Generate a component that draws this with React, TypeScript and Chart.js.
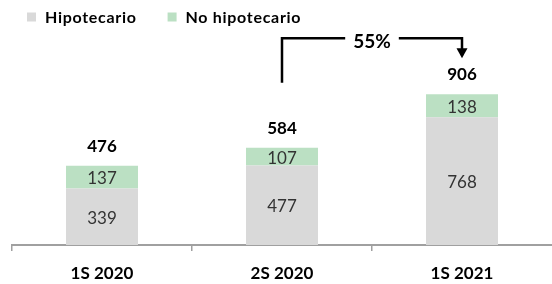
import React, { useEffect, useRef } from "react";
import { Chart, registerables } from "chart.js";

Chart.register(...registerables);

const categories = ["1S 2020", "2S 2020", "1S 2021"];
const seriesNames = ["Hipotecario", "No hipotecario"];
const hipotecario = [339, 477, 768];
const noHipotecario = [137, 107, 138];
const growthLabel = "55%";
const seriesColors = ["#d9d9d9", "#bbe0c3"];

const FONT = "Lato, 'Open Sans', sans-serif";
const totals = categories.map((_, i) => hipotecario[i] + noHipotecario[i]);

const legendPlugin = {
  id: "customLegend",
  afterDraw(chart: any) {
    const ctx = chart.ctx;
    ctx.save();
    ctx.font = `bold 16px ${FONT}`;
    try {
      (ctx as any).letterSpacing = "0.7px";
    } catch (e) {}
    ctx.textAlign = "left";
    ctx.textBaseline = "middle";
    let lx = chart.chartArea.left + 15;
    const cy = 17;
    chart.data.datasets.forEach((ds: any) => {
      ctx.fillStyle = ds.backgroundColor;
      ctx.fillRect(lx, cy - 4.5, 9, 9);
      ctx.fillStyle = "#000";
      ctx.fillText(ds.label, lx + 18, cy + 1);
      lx += 18 + ctx.measureText(ds.label).width + 31;
    });
    ctx.restore();
  },
};

const labelsPlugin = {
  id: "valueLabels",
  afterDatasetsDraw(chart: any) {
    const ctx = chart.ctx;
    ctx.save();
    ctx.textAlign = "center";
    ctx.textBaseline = "middle";
    chart.data.datasets.forEach((ds: any, di: number) => {
      const meta = chart.getDatasetMeta(di);
      meta.data.forEach((el: any, i: number) => {
        ctx.fillStyle = "#333333";
        ctx.font = `17px ${FONT}`;
        ctx.fillText(String(ds.data[i]), el.x, (el.y + el.base) / 2 + 1.5);
      });
    });
    const y = chart.scales.y;
    const x = chart.scales.x;
    totals.forEach((t, i) => {
      ctx.font = `bold 17px ${FONT}`;
      ctx.fillStyle = "#000";
      ctx.fillText(String(t), x.getPixelForValue(i), y.getPixelForValue(t) - 19.5);
    });
    ctx.restore();
  },
};

const growthPlugin = {
  id: "growthArrow",
  afterDraw(chart: any) {
    const ctx = chart.ctx;
    const x = chart.scales.x;
    const y = chart.scales.y;
    const x1 = x.getPixelForValue(1);
    const x2 = x.getPixelForValue(2);
    const yStart = y.getPixelForValue(totals[1]) - 65;
    const yTop = y.getPixelForValue(totals[2]) - 56;
    const yTip = y.getPixelForValue(totals[2]) - 36;
    ctx.save();
    ctx.font = `bold 19px ${FONT}`;
    const tw = ctx.measureText(growthLabel).width;
    const mid = (x1 + x2) / 2;
    const gap = 8;
    ctx.strokeStyle = "#000";
    ctx.fillStyle = "#000";
    ctx.lineWidth = 2.5;
    ctx.lineJoin = "miter";
    ctx.lineCap = "butt";
    ctx.beginPath();
    ctx.moveTo(x1, yStart);
    ctx.lineTo(x1, yTop);
    ctx.lineTo(mid - tw / 2 - gap, yTop);
    ctx.moveTo(mid + tw / 2 + gap, yTop);
    ctx.lineTo(x2, yTop);
    ctx.lineTo(x2, yTip - 9);
    ctx.stroke();
    ctx.beginPath();
    ctx.moveTo(x2 - 5.5, yTip - 10);
    ctx.lineTo(x2 + 5.5, yTip - 10);
    ctx.lineTo(x2, yTip);
    ctx.closePath();
    ctx.fill();
    ctx.textAlign = "center";
    ctx.textBaseline = "middle";
    ctx.fillText(growthLabel, mid, yTop + 4);
    ctx.restore();
  },
};

export default function App() {
  const canvasRef = useRef<HTMLCanvasElement | null>(null);

  useEffect(() => {
    document.body.style.margin = "0";
    const canvas = canvasRef.current;
    if (!canvas) return;
    const chart = new Chart(canvas, {
      type: "bar",
      data: {
        labels: categories,
        datasets: [
          {
            label: seriesNames[0],
            data: hipotecario,
            backgroundColor: seriesColors[0],
            borderWidth: 0,
            barPercentage: 0.4,
            categoryPercentage: 1,
          },
          {
            label: seriesNames[1],
            data: noHipotecario,
            backgroundColor: seriesColors[1],
            borderWidth: 0,
            barPercentage: 0.4,
            categoryPercentage: 1,
          },
        ],
      },
      options: {
        animation: false,
        responsive: false,
        maintainAspectRatio: false,
        layout: { padding: { left: 12, right: 0, top: 12, bottom: 2 } },
        plugins: {
          legend: { display: false },
          tooltip: { enabled: false },
        },
        scales: {
          x: {
            stacked: true,
            afterFit: (scale: any) => {
              scale.height = 37;
            },
            grid: {
              display: true,
              drawOnChartArea: false,
              drawTicks: true,
              tickLength: 6,
              offset: true,
              color: (c: any) => (c.type === "tick" ? "#a0a0a0" : "rgba(0,0,0,0)"),
              lineWidth: 1.5,
            },
            border: { display: true, color: "#a0a0a0", width: 2 },
            ticks: {
              color: "#000",
              padding: 12,
              font: { family: FONT, size: 17, weight: "bold" },
            },
          },
          y: {
            stacked: true,
            display: false,
            min: 0,
            max: 1400,
          },
        },
      },
      plugins: [labelsPlugin, growthPlugin, legendPlugin],
    });
    return () => chart.destroy();
  }, []);

  return (
    <div style={{ width: 552, height: 284, background: "#fff" }}>
      <canvas ref={canvasRef} width={552} height={284} style={{ display: "block" }} />
    </div>
  );
}
